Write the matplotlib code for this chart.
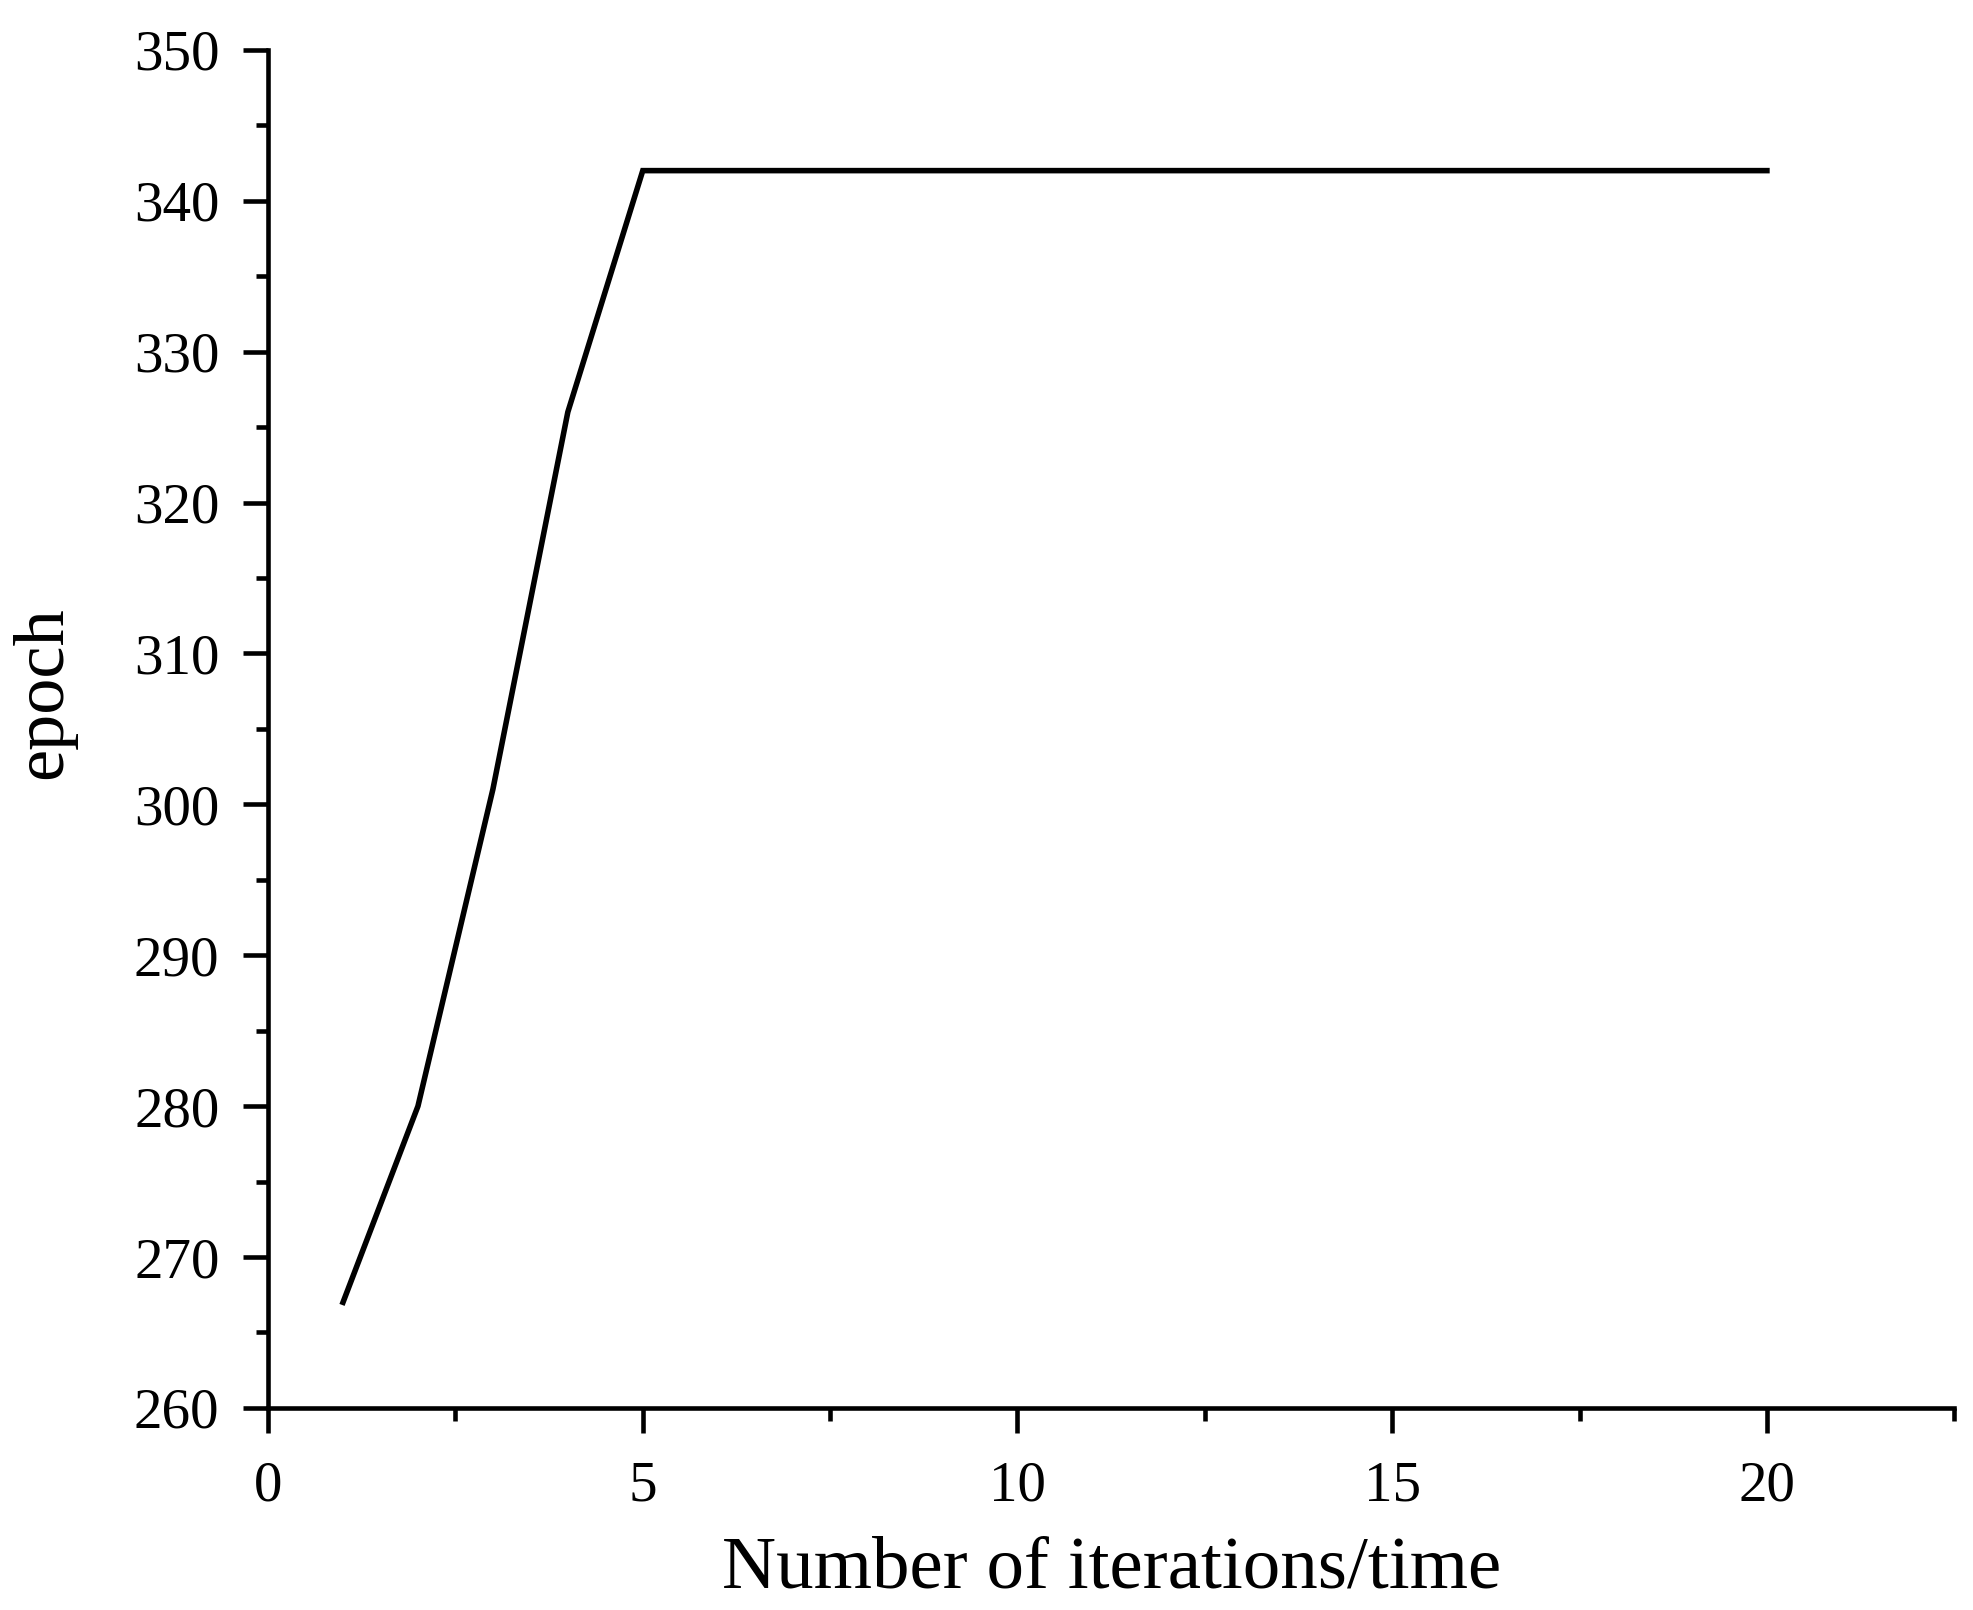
import matplotlib.pyplot as plt
from matplotlib.ticker import MultipleLocator

# data
iterations = [1, 2, 3, 4, 5, 6, 7, 8, 9, 10, 11, 12, 13, 14, 15, 16, 17, 18, 19, 20]
epochs = [267, 280, 301, 326, 342, 342, 342, 342, 342, 342,
          342, 342, 342, 342, 342, 342, 342, 342, 342, 342]

plt.rcParams['font.family'] = ['Liberation Serif', 'DejaVu Serif']

fig = plt.figure(figsize=(19.74, 16.10), dpi=100)
ax = fig.add_axes([0.1358, 0.1255, 0.8542, 0.8435])

ax.plot(iterations, epochs, color='black', lw=4, solid_joinstyle='miter')

ax.set_xlim(0, 22.5)
ax.set_ylim(260, 350)
ax.xaxis.set_major_locator(MultipleLocator(5))
ax.xaxis.set_minor_locator(MultipleLocator(2.5))
ax.yaxis.set_major_locator(MultipleLocator(10))
ax.yaxis.set_minor_locator(MultipleLocator(5))

for side in ['top', 'right']:
    ax.spines[side].set_visible(False)
for side in ['left', 'bottom']:
    ax.spines[side].set_linewidth(3.3)

ax.tick_params(axis='both', which='major', direction='out', length=18, width=3.3,
               labelsize=41, colors='black')
ax.tick_params(axis='both', which='minor', direction='out', length=9, width=3.3)
ax.tick_params(axis='y', which='major', pad=17)
ax.tick_params(axis='x', which='major', pad=20)

ax.set_xlabel('Number of iterations/time', fontsize=54, va='center')
ax.xaxis.set_label_coords(0.5, -0.119)
ax.set_ylabel('epoch', fontsize=52, va='center')
ax.yaxis.set_label_coords(-0.1334, 0.527)

fig.savefig('out.png', dpi=100)
